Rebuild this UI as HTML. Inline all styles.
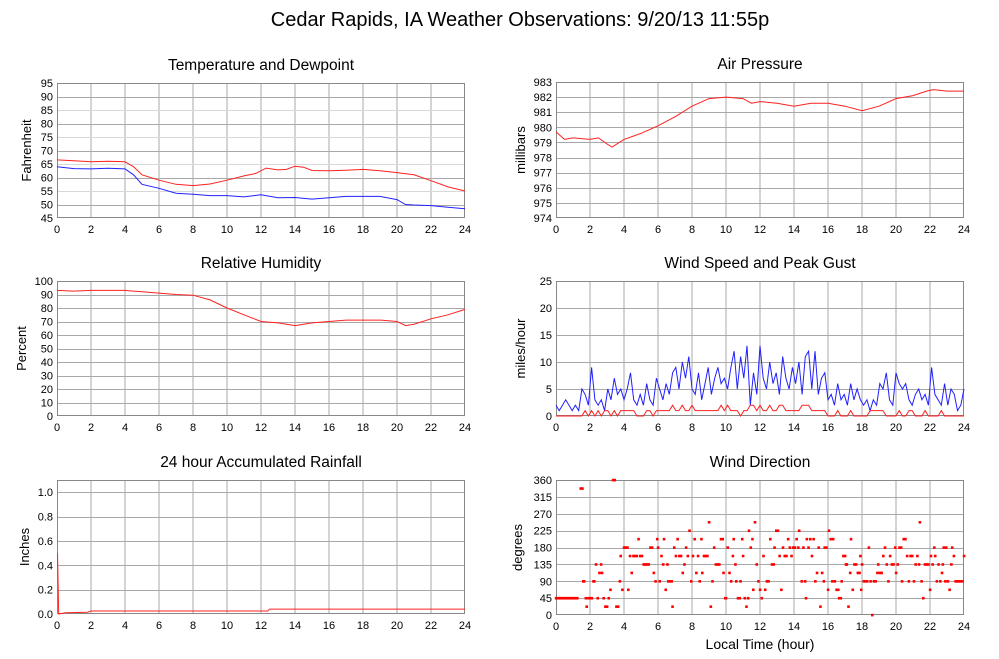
<!DOCTYPE html>
<html><head><meta charset="utf-8"><style>
body{margin:0;background:#fff;}
svg{display:block;font-family:"Liberation Sans",sans-serif;}
</style></head><body>
<svg id="c" width="999" height="659" xmlns="http://www.w3.org/2000/svg">
<text x="520" y="26" font-size="20" text-anchor="middle">Cedar Rapids, IA Weather Observations: 9/20/13 11:55p</text>
<text x="760" y="649" font-size="14" text-anchor="middle">Local Time (hour)</text>
</svg>
<script>
const tempHours=[0,1,2,3,4,4.5,5,6,7,8,9,10,11,11.7,12.3,13,13.5,14,14.5,15,16,17,18,19,20,21,22,23,24];
const tempVals=[66.5,66.2,65.8,66,65.8,64,61,59,57.5,57,57.6,59,60.6,61.5,63.5,62.8,63,64.2,63.8,62.6,62.5,62.7,63,62.5,61.8,61,58.8,56.5,55];
const dewHours=[0,1,2,3,4,4.5,5,6,7,8,9,10,11,12,13,14,15,16,17,18,19,20,20.5,21,22,23,24];
const dewVals=[64,63.3,63.2,63.4,63.2,61,57.5,56,54.2,53.8,53.3,53.3,52.8,53.6,52.5,52.6,52,52.5,53,53,53,51.8,50,49.8,49.6,49,48.4];
const presHours=[0,0.5,1,2,2.5,3,3.3,4,5,6,7,8,9,10,11,11.5,12,13,14,15,16,17,18,19,20,21,21.8,22.2,23,24];
const presVals=[979.7,979.2,979.3,979.2,979.3,978.9,978.7,979.2,979.6,980.1,980.7,981.4,981.9,982.0,981.9,981.6,981.7,981.6,981.4,981.6,981.6,981.4,981.1,981.4,981.9,982.1,982.4,982.5,982.4,982.4];
const rhHours=[0,1,2,3,4,5,6,7,8,9,10,11,12,13,14,15,16,17,18,19,20,20.5,21,22,23,24];
const rhVals=[93,92.5,93,93,93,92,91,90,89.5,86,80,75,70,69,67,69,70,71,71,71,70,67,68,72,75,79];
const windVals=[2,1,2,3,2,1,2,1,5,4,2,9,3,2,3,1,5,3,7,4,5,3,5,8,3,2,4,2,6,3,2,7,5,3,6,4,8,9,5,10,7,11,5,4,8,3,6,9,4,7,9,6,7,5,9,12,5,11,7,13,2,8,4,13,7,5,10,6,8,4,11,7,5,9,6,10,4,11,12,5,12,4,7,8,3,4,2,6,3,4,2,6,3,5,3,2,3,1,3,2,6,5,8,3,2,8,6,5,6,3,2,4,5,3,4,2,9,4,3,2,6,2,5,4,1,2,5];
const gustVals=[0,0,0,0,0,0,0,0,0,1,0,1,0,1,0,1,1,0,1,0,1,1,1,1,1,0,0,0,1,1,0,1,1,1,1,1,2,1,1,2,1,1,2,1,1,1,1,1,1,1,1,2,1,2,1,1,1,0,1,1,2,2,1,2,1,1,2,1,1,2,2,1,1,1,1,1,2,2,2,1,1,1,1,1,0,0,0,1,0,0,0,1,0,0,0,0,0,1,1,1,1,1,0,0,0,0,1,0,0,1,1,0,0,0,1,0,0,0,0,1,0,0,0,0,0,0,0];
const rainHours=[0,0.03,0.1,0.5,1.8,2.0,12.4,12.5,24];
const rainVals=[0.5,0.5,0.0,0.01,0.015,0.025,0.025,0.04,0.04];
const dirHours=[0,0.08,0.17,0.25,0.33,0.42,0.5,0.58,0.67,0.75,0.83,0.92,1,1.08,1.17,1.25,1.45,1.55,1.6,1.65,1.75,1.8,1.9,2.0,2.1,2.2,2.25,2.35,2.45,2.55,2.65,2.7,2.8,2.9,3.0,3.1,3.2,3.35,3.45,3.55,3.65,3.75,3.8,3.9,4.0,4.1,4.2,4.25,4.35,4.45,4.55,4.65,4.75,4.85,4.95,5.05,5.15,5.25,5.35,5.45,5.55,5.65,5.75,5.85,5.95,6.0,6.1,6.2,6.3,6.35,6.45,6.55,6.6,6.7,6.8,6.85,6.95,7.05,7.15,7.25,7.35,7.45,7.55,7.65,7.75,7.85,7.95,8.05,8.15,8.25,8.35,8.45,8.55,8.6,8.7,8.8,8.9,9.0,9.1,9.2,9.3,9.4,9.5,9.6,9.7,9.8,9.85,9.95,10.0,10.1,10.2,10.3,10.4,10.45,10.55,10.6,10.7,10.8,10.85,10.95,11.0,11.1,11.2,11.3,11.35,11.45,11.55,11.6,11.7,11.8,11.9,12.0,12.1,12.2,12.3,12.4,12.5,12.6,12.7,12.8,12.85,12.95,13.05,13.15,13.25,13.35,13.45,13.55,13.65,13.75,13.85,13.95,14.05,14.15,14.25,14.3,14.45,14.55,14.65,14.7,14.75,14.85,14.95,15.05,15.15,15.25,15.35,15.45,15.55,15.65,15.75,15.8,15.9,16.0,16.05,16.15,16.25,16.3,16.4,16.5,16.6,16.65,16.75,16.8,16.9,17.0,17.05,17.1,17.2,17.3,17.35,17.45,17.55,17.65,17.75,17.85,17.9,17.95,18.0,18.1,18.2,18.3,18.4,18.5,18.6,18.7,18.8,18.9,18.95,19.05,19.15,19.25,19.35,19.45,19.55,19.65,19.75,19.85,19.95,20.0,20.1,20.2,20.3,20.35,20.45,20.55,20.65,20.75,20.85,20.95,21.05,21.15,21.25,21.35,21.4,21.5,21.6,21.7,21.8,21.9,22.0,22.05,22.15,22.25,22.3,22.4,22.5,22.6,22.7,22.75,22.8,22.9,22.95,23.05,23.15,23.25,23.3,23.4,23.5,23.6,23.7,23.8,23.9,24.0];
const dirDegrees=[45,45,45,45,45,45,45,45,45,45,45,45,45,45,45,45,337.5,337.5,90,90,45,22.5,45,45,45,90,90,135,45,112.5,135,112.5,45,22.5,22.5,45,67.5,360,360,22.5,22.5,90,157.5,67.5,180,180,180,67.5,157.5,112.5,157.5,157.5,157.5,202.5,157.5,157.5,135,135,135,135,180,180,112.5,90,202.5,180,90,157.5,135,202.5,67.5,135,90,90,90,22.5,180,157.5,202.5,157.5,157.5,112.5,135,180,157.5,225,90,157.5,202.5,112.5,157.5,90,202.5,112.5,157.5,157.5,157.5,247.5,22.5,90,180,135,135,135,202.5,202.5,112.5,45,45,180,112.5,90,157.5,202.5,135,90,45,45,90,202.5,157.5,45,22.5,45,225,180,202.5,67.5,247.5,135,90,67.5,45,157.5,67.5,90,90,202.5,135,135,180,225,225,157.5,67.5,180,157.5,157.5,202.5,180,157.5,180,180,202.5,180,225,90,180,90,45,202.5,180,202.5,157.5,202.5,90,112.5,180,22.5,112.5,90,180,180,67.5,225,202.5,90,202.5,90,67.5,67.5,45,45,90,157.5,157.5,135,135,22.5,112.5,202.5,67.5,135,135,112.5,112.5,157.5,67.5,135,90,90,90,180,90,0,90,90,112.5,135,112.5,112.5,157.5,180,135,90,157.5,135,135,180,112.5,135,180,180,90,202.5,202.5,157.5,90,157.5,157.5,90,135,157.5,135,247.5,90,45,135,135,135,67.5,157.5,135,180,157.5,90,135,90,112.5,135,180,90,180,90,67.5,135,180,157.5,90,90,90,90,90,157.5];

const NS="http://www.w3.org/2000/svg";
const svg=document.getElementById('c');
function mk(tag,attrs,parent){const e=document.createElementNS(NS,tag);for(const k in attrs)e.setAttribute(k,attrs[k]);(parent||svg).appendChild(e);return e;}

function panel(p){
  const g=mk('g',{});
  
  
  const xs=h=>p.L+(h/24)*(p.R-p.L);
  const ys=v=>p.B-(v-p.min)/(p.max-p.min)*(p.B-p.T);
  p.xs=xs;p.ys=ys;
  mk('rect',{x:p.L,y:p.T,width:p.R-p.L,height:p.B-p.T,fill:'#fff',stroke:'none'},g);
  for(let h=2;h<24;h+=2){const l=mk('line',{x1:xs(h),x2:xs(h),y1:p.T,y2:p.B,stroke:'#a8a8a8','stroke-width':1},g);
    }
  p.ticks.forEach((v,i)=>{
    const y=Math.round(ys(v))+0.5;
    if(v>p.min&&v<p.max){const l=mk('line',{x1:p.L,x2:p.R,y1:y,y2:y,stroke:(p.minor&&i%2==p.minor-1)?'#d8d8d8':'#a8a8a8','stroke-width':1},g);
      }
    const t=mk('text',{x:p.L-4,y:ys(v)+4,'font-size':11,'text-anchor':'end'},g);
    
    t.textContent=p.tickLabels[i];
  });
  for(let h=0;h<=24;h+=2){const t=mk('text',{x:xs(h),y:p.B+15,'font-size':11,'text-anchor':'middle'},g);
    t.textContent=h;}
  const fr=mk('rect',{x:p.L+0.5,y:p.T+0.5,width:p.R-p.L-1,height:p.B-p.T-1,fill:'none',stroke:'#888','stroke-width':1},g);
  
  const tt=mk('text',{x:(p.L+p.R)/2,y:p.T-13,'font-size':15.5,'text-anchor':'middle'},g);
  tt.textContent=p.title;
  const yl=mk('text',{x:p.ylx,y:(p.T+p.B)/2,'font-size':13,'text-anchor':'middle',transform:`rotate(-90 ${p.ylx} ${(p.T+p.B)/2})`},g);
  yl.textContent=p.ylabel;
  p.g=g;return p;
}
function line(p,hours,vals,color,name){
  const d=hours.map((h,i)=>(i?'L':'M')+p.xs(h).toFixed(1)+' '+p.ys(vals[i]).toFixed(1)).join(' ');
  const e=mk('path',{d:d,fill:'none',stroke:color,'stroke-width':1},p.g);
  
  
}
function rng(a,b,s){const r=[];for(let v=a;v<=b+1e-9;v+=s)r.push(+v.toFixed(2));return r;}
function idxHours(n){return Array.from({length:n},(_,i)=>i*24/(n-1));}

const tempT=rng(45,95,5);
const tp=panel({name:'temperature-panel',L:57,R:465,T:83,B:218,min:45,max:95,ticks:tempT,tickLabels:tempT.map(String),title:'Temperature and Dewpoint',ylabel:'Fahrenheit',ylx:31,minor:1});
line(tp,tempHours,tempVals,'#ff2020','temperature-line');
line(tp,dewHours,dewVals,'#2020ff','dewpoint-line');

const presT=rng(974,983,1);
const pp=panel({name:'pressure-panel',L:556,R:964,T:82,B:218,min:974,max:983,ticks:presT,tickLabels:presT.map(String),title:'Air Pressure',ylabel:'millibars',ylx:525});
line(pp,presHours,presVals,'#ff2020','pressure-line');

const rhT=rng(0,100,10);
const rp=panel({name:'humidity-panel',L:57,R:465,T:281,B:416,min:0,max:100,ticks:rhT,tickLabels:rhT.map(String),title:'Relative Humidity',ylabel:'Percent',ylx:26});
line(rp,rhHours,rhVals,'#ff2020','humidity-line');

const wT=rng(0,25,5);
const wp=panel({name:'wind-speed-panel',L:556,R:964,T:281,B:416,min:0,max:25,ticks:wT,tickLabels:wT.map(String),title:'Wind Speed and Peak Gust',ylabel:'miles/hour',ylx:525});
line(wp,idxHours(windVals.length),windVals,'#2020ff','wind-speed-line');
line(wp,idxHours(gustVals.length),gustVals,'#ff2020','peak-gust-line');

const rainT=rng(0,1,0.2);
const rnp=panel({name:'rainfall-panel',L:57,R:465,T:480,B:614,min:0,max:1.1,ticks:rainT,tickLabels:rainT.map(v=>v.toFixed(1)),title:'24 hour Accumulated Rainfall',ylabel:'Inches',ylx:29});
line(rnp,rainHours,rainVals,'#ff2020','rainfall-line');

const dT=rng(0,360,45);
const dp=panel({name:'wind-direction-panel',L:556,R:964,T:480,B:615,min:0,max:360,ticks:dT,tickLabels:dT.map(String),title:'Wind Direction',ylabel:'degrees',ylx:522});
dirHours.forEach((h,i)=>{
  const r=mk('rect',{x:dp.xs(h)-1.2,y:dp.ys(dirDegrees[i])-1.2,width:2.6,height:2.6,fill:'#ff0000'},dp.g);
  
  
});
</script>
</body></html>
